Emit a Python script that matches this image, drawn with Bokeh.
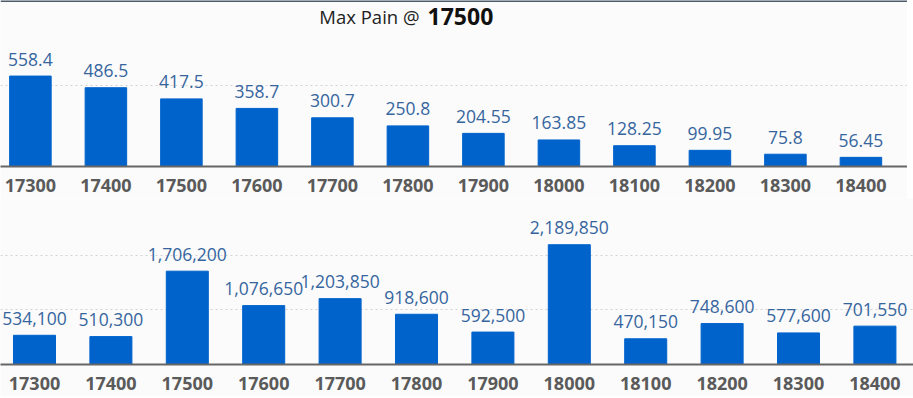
from bokeh.plotting import figure
from bokeh.layouts import column
from bokeh.models import ColumnDataSource, FixedTicker, Label, Span, Range1d
from bokeh.embed import file_html
from bokeh.resources import INLINE
from bokeh.core.properties import value

# ---- data ----
strikes = [17300, 17400, 17500, 17600, 17700, 17800, 17900, 18000, 18100, 18200, 18300, 18400]
max_pain_values = [558.4, 486.5, 417.5, 358.7, 300.7, 250.8, 204.55, 163.85, 128.25, 99.95, 75.8, 56.45]
open_interest = [534100, 510300, 1706200, 1076650, 1203850, 918600, 592500, 2189850, 470150, 748600, 577600, 701550]
title_prefix = "Max Pain @"
max_pain_strike = "17500"

# ---- styles ----
BG = "#fbfbfb"
BAR = "#0063cc"
VAL = "#36659e"
TICK = "#5a5a5a"
FONT = "Open Sans"

idx = list(range(len(strikes)))
overrides = {i: str(s) for i, s in zip(idx, strikes)}


def make_panel(values, labels, x_start, x_end, y_end, grid_ticks, fwidth, mb):
    src = ColumnDataSource(dict(x=idx, top=values, label=labels))
    p = figure(frame_width=fwidth, frame_height=166,
               x_range=Range1d(x_start, x_end), y_range=Range1d(0, y_end),
               output_backend="svg", toolbar_location=None,
               min_border_top=0, min_border_left=0, min_border_right=0, min_border_bottom=mb,
               background_fill_color=BG, border_fill_color=BG, outline_line_color=None)
    p.vbar(x="x", top="top", bottom=0, width=0.55, source=src, fill_color=BAR, line_color=BAR)
    p.text(x="x", y="top", text="label", source=src, text_align="center",
           text_baseline="middle", y_offset=-17, text_font=value(FONT),
           text_font_size="17.5px", text_color=VAL)
    p.yaxis.visible = False
    p.xgrid.visible = False
    p.ygrid.ticker = FixedTicker(ticks=grid_ticks)
    p.ygrid.grid_line_color = "#d2d2d2"
    p.ygrid.grid_line_dash = "2 3"
    p.ygrid.grid_line_width = 1
    ax = p.xaxis[0]
    ax.ticker = FixedTicker(ticks=idx)
    ax.major_label_overrides = overrides
    ax.major_tick_line_color = None
    ax.minor_tick_line_color = None
    ax.axis_line_color = "#666666"
    ax.axis_line_width = 2
    ax.major_label_text_font = FONT
    ax.major_label_text_font_style = "bold"
    ax.major_label_text_font_size = "18px"
    ax.major_label_text_color = TICK
    ax.major_label_standoff = 6
    return p


TOP_MAX = 1025
BOT_MAX = 3035000

top = make_panel(max_pain_values, [str(v) for v in max_pain_values],
                 -0.396, 11.617, TOP_MAX, [500], 907, 32)
top.add_layout(Span(location=TOP_MAX, dimension="width", line_color="#4d5b6b", line_width=3))
top.add_layout(Label(x=5.207, y=925, text=title_prefix, text_align="right", x_offset=-4,
                     text_baseline="middle", text_font=FONT, text_font_size="18.5px",
                     text_color="#222222"))
top.add_layout(Label(x=5.207, y=925, text=max_pain_strike, text_align="left", x_offset=4,
                     text_baseline="middle", text_font=FONT, text_font_size="23px",
                     text_font_style="bold", text_color="#111111"))

bottom = make_panel(open_interest, [f"{v:,}" for v in open_interest],
                    -0.445, 11.505, BOT_MAX, [1000000, 2000000], 913, 32)

layout = column(top, bottom, spacing=0)

open("out.html", "w").write(file_html(layout, INLINE))
